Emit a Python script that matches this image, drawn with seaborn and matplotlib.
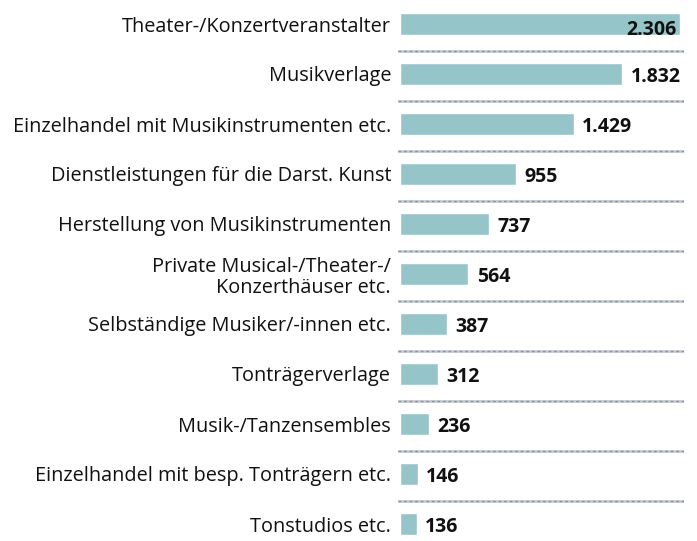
import matplotlib
matplotlib.use('Agg')
import matplotlib.pyplot as plt
import seaborn as sns
import pandas as pd

# data
labels = ['Theater-/Konzertveranstalter', 'Musikverlage',
          'Einzelhandel mit Musikinstrumenten etc.',
          'Dienstleistungen für die Darst. Kunst',
          'Herstellung von Musikinstrumenten',
          'Private Musical-/Theater-/\nKonzerthäuser etc.',
          'Selbständige Musiker/-innen etc.', 'Tonträgerverlage',
          'Musik-/Tanzensembles', 'Einzelhandel mit besp. Tonträgern etc.',
          'Tonstudios etc.']
values = [2306, 1832, 1429, 955, 737, 564, 387, 312, 236, 146, 136]

df = pd.DataFrame({'label': labels, 'value': values})

sns.set_style('white')
plt.rcParams['font.family'] = ['Open Sans', 'DejaVu Sans']

fig = plt.figure(figsize=(6.97, 5.41), dpi=100)
ax = fig.add_axes([398 / 697, 0, (684 - 398) / 697, 1])

bar_color = '#96c5c9'
sns.barplot(data=df, x='value', y='label', color=bar_color, width=0.44,
            orient='h', ax=ax, saturation=1)

ax.set_xlim(-16.5, 2339)
ax.set_ylim(10.34, -0.48)

# dashed separators between rows
for i in range(len(labels) - 1):
    ax.axhline(i + 0.54, color='#c5cbd1', lw=2.0, zorder=1)
    ax.axhline(i + 0.54, color='#8c959e', lw=1.0, dashes=(2, 2), zorder=2)

# value labels
for i, v in enumerate(values):
    txt = f'{v:,}'.replace(',', '.')
    if v > 2200:
        ax.text(v - 25, i + 0.12, txt, ha='right', va='center',
                fontsize=14, fontweight='bold', color='#111111')
    else:
        ax.text(v + 70, i + 0.06, txt, ha='left', va='center',
                fontsize=14, fontweight='bold', color='#111111')

ax.set_xlabel('')
ax.set_ylabel('')
ax.set_xticks([])
ax.tick_params(axis='y', length=0, pad=5, labelsize=14.3, labelcolor='#111111')
for t in ax.get_yticklabels():
    t.set_linespacing(1.1)
for s in ax.spines.values():
    s.set_visible(False)

fig.savefig('out.png', dpi=100)
